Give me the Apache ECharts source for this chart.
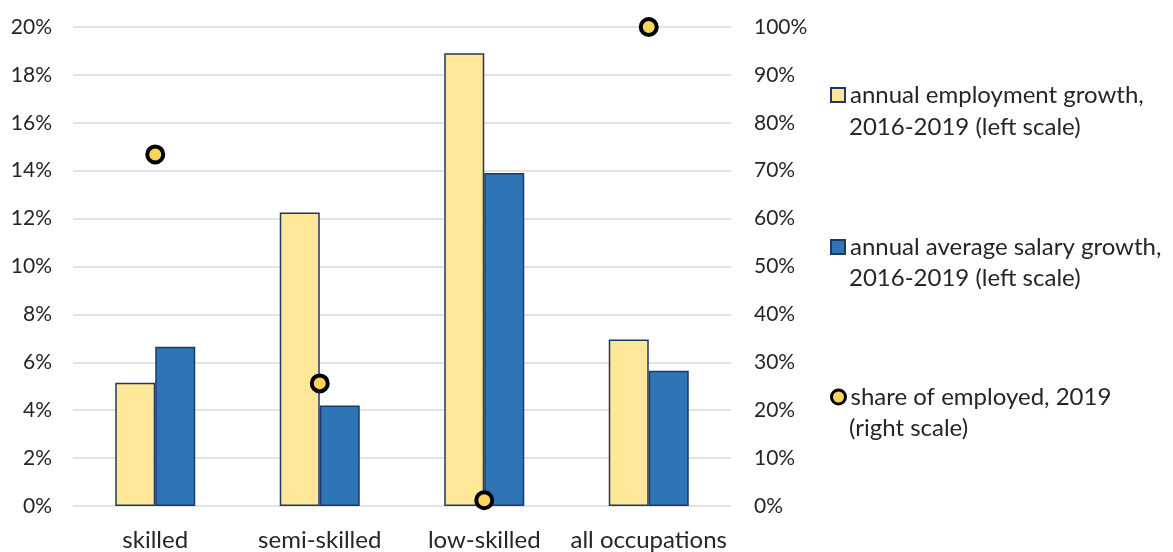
<!DOCTYPE html>
<html lang="en">
<head>
	<meta charset="UTF-8">
	<title>Employment and salary growth</title>
	<style>
		html, body { margin: 0; padding: 0; background: #fff; }
		#box { width: 1173px; height: 552px; }
	</style>
</head>
<body>
	<div id="box"></div>
	<script src="https://cdn.jsdelivr.net/npm/echarts@6/dist/echarts.min.js"></script>
	<script>
		// data (percent)
		var categories = ['skilled', 'semi-skilled', 'low-skilled', 'all occupations'];
		var employmentGrowth = [5.15, 12.25, 18.9, 6.95];
		var salaryGrowth = [6.65, 4.2, 13.9, 5.65];
		var shareEmployed = [73.4, 25.6, 1.2, 100];

		var nameEmp = 'annual employment growth,';
		var nameSal = 'annual average salary growth,';
		var nameShare = 'share of employed, 2019';

		var font = 'Lato';
		var txt = '#262626';
		var fs = 24;     // words
		var fsNum = 21;  // tick numbers

		var myChart = echarts.init(document.getElementById('box'));

		// one legend per entry, so each can sit where the picture has it
		function oneLegend(name, top, dot) {
			var item = { name: name, icon: dot ? 'circle' : 'rect' };
			if (dot) item.itemStyle = { borderWidth: 3 };
			return {
				left: 830,
				top: top,
				padding: 0,
				itemWidth: 14,
				itemHeight: 14,
				textStyle: { fontFamily: font, fontSize: fs, color: txt, lineHeight: 30 },
				data: [item]
			};
		}

		function secondLine(text, y) {
			return {
				type: 'text', x: 849, y: y,
				style: { text: text, fontFamily: font, fontSize: fs, fill: txt, verticalAlign: 'middle' }
			};
		}

		var option = {
			animation: false,
			textStyle: { fontFamily: font },
			grid: { left: 73, right: 442, top: 27, bottom: 44 },
			legend: [
				oneLegend(nameEmp, 80, false),
				oneLegend(nameSal, 232, false),
				oneLegend(nameShare, 382, true)
			],
			graphic: [
				secondLine('2016-2019 (left scale)', 127),
				secondLine('2016-2019 (left scale)', 278),
				secondLine('(right scale)', 428)
			],
			xAxis: {
				type: 'category',
				data: categories,
				axisLine: { show: false },
				axisTick: { show: false },
				axisLabel: { interval: 0, fontSize: fs, color: txt, margin: 22 }
			},
			yAxis: [
				{
					type: 'value',
					min: 0, max: 20, interval: 2,
					axisLabel: { formatter: '{value}%', fontSize: fsNum, color: txt, margin: 21 },
					splitLine: { lineStyle: { color: '#d9d9d9', width: 1.5 } }
				},
				{
					type: 'value',
					min: 0, max: 100, interval: 10,
					axisLabel: { formatter: '{value}%', fontSize: fsNum, color: txt, margin: 23 },
					splitLine: { show: false }
				}
			],
			series: [
				{
					name: nameEmp,
					type: 'bar',
					barWidth: 40,
					barGap: '0%',
					data: employmentGrowth,
					itemStyle: { color: '#ffe699', borderColor: '#1f3864', borderWidth: 1.5 }
				},
				{
					name: nameSal,
					type: 'bar',
					barWidth: 40,
					barGap: '0%',
					data: salaryGrowth,
					itemStyle: { color: '#2e75b6', borderColor: '#1f3864', borderWidth: 1.5 }
				},
				{
					name: nameShare,
					type: 'scatter',
					yAxisIndex: 1,
					symbolSize: 16,
					data: shareEmployed,
					itemStyle: { color: '#f9d45c', borderColor: '#000', borderWidth: 4, opacity: 1 },
					z: 5
				}
			]
		};

		myChart.setOption(option);
	</script>
</body>
</html>
